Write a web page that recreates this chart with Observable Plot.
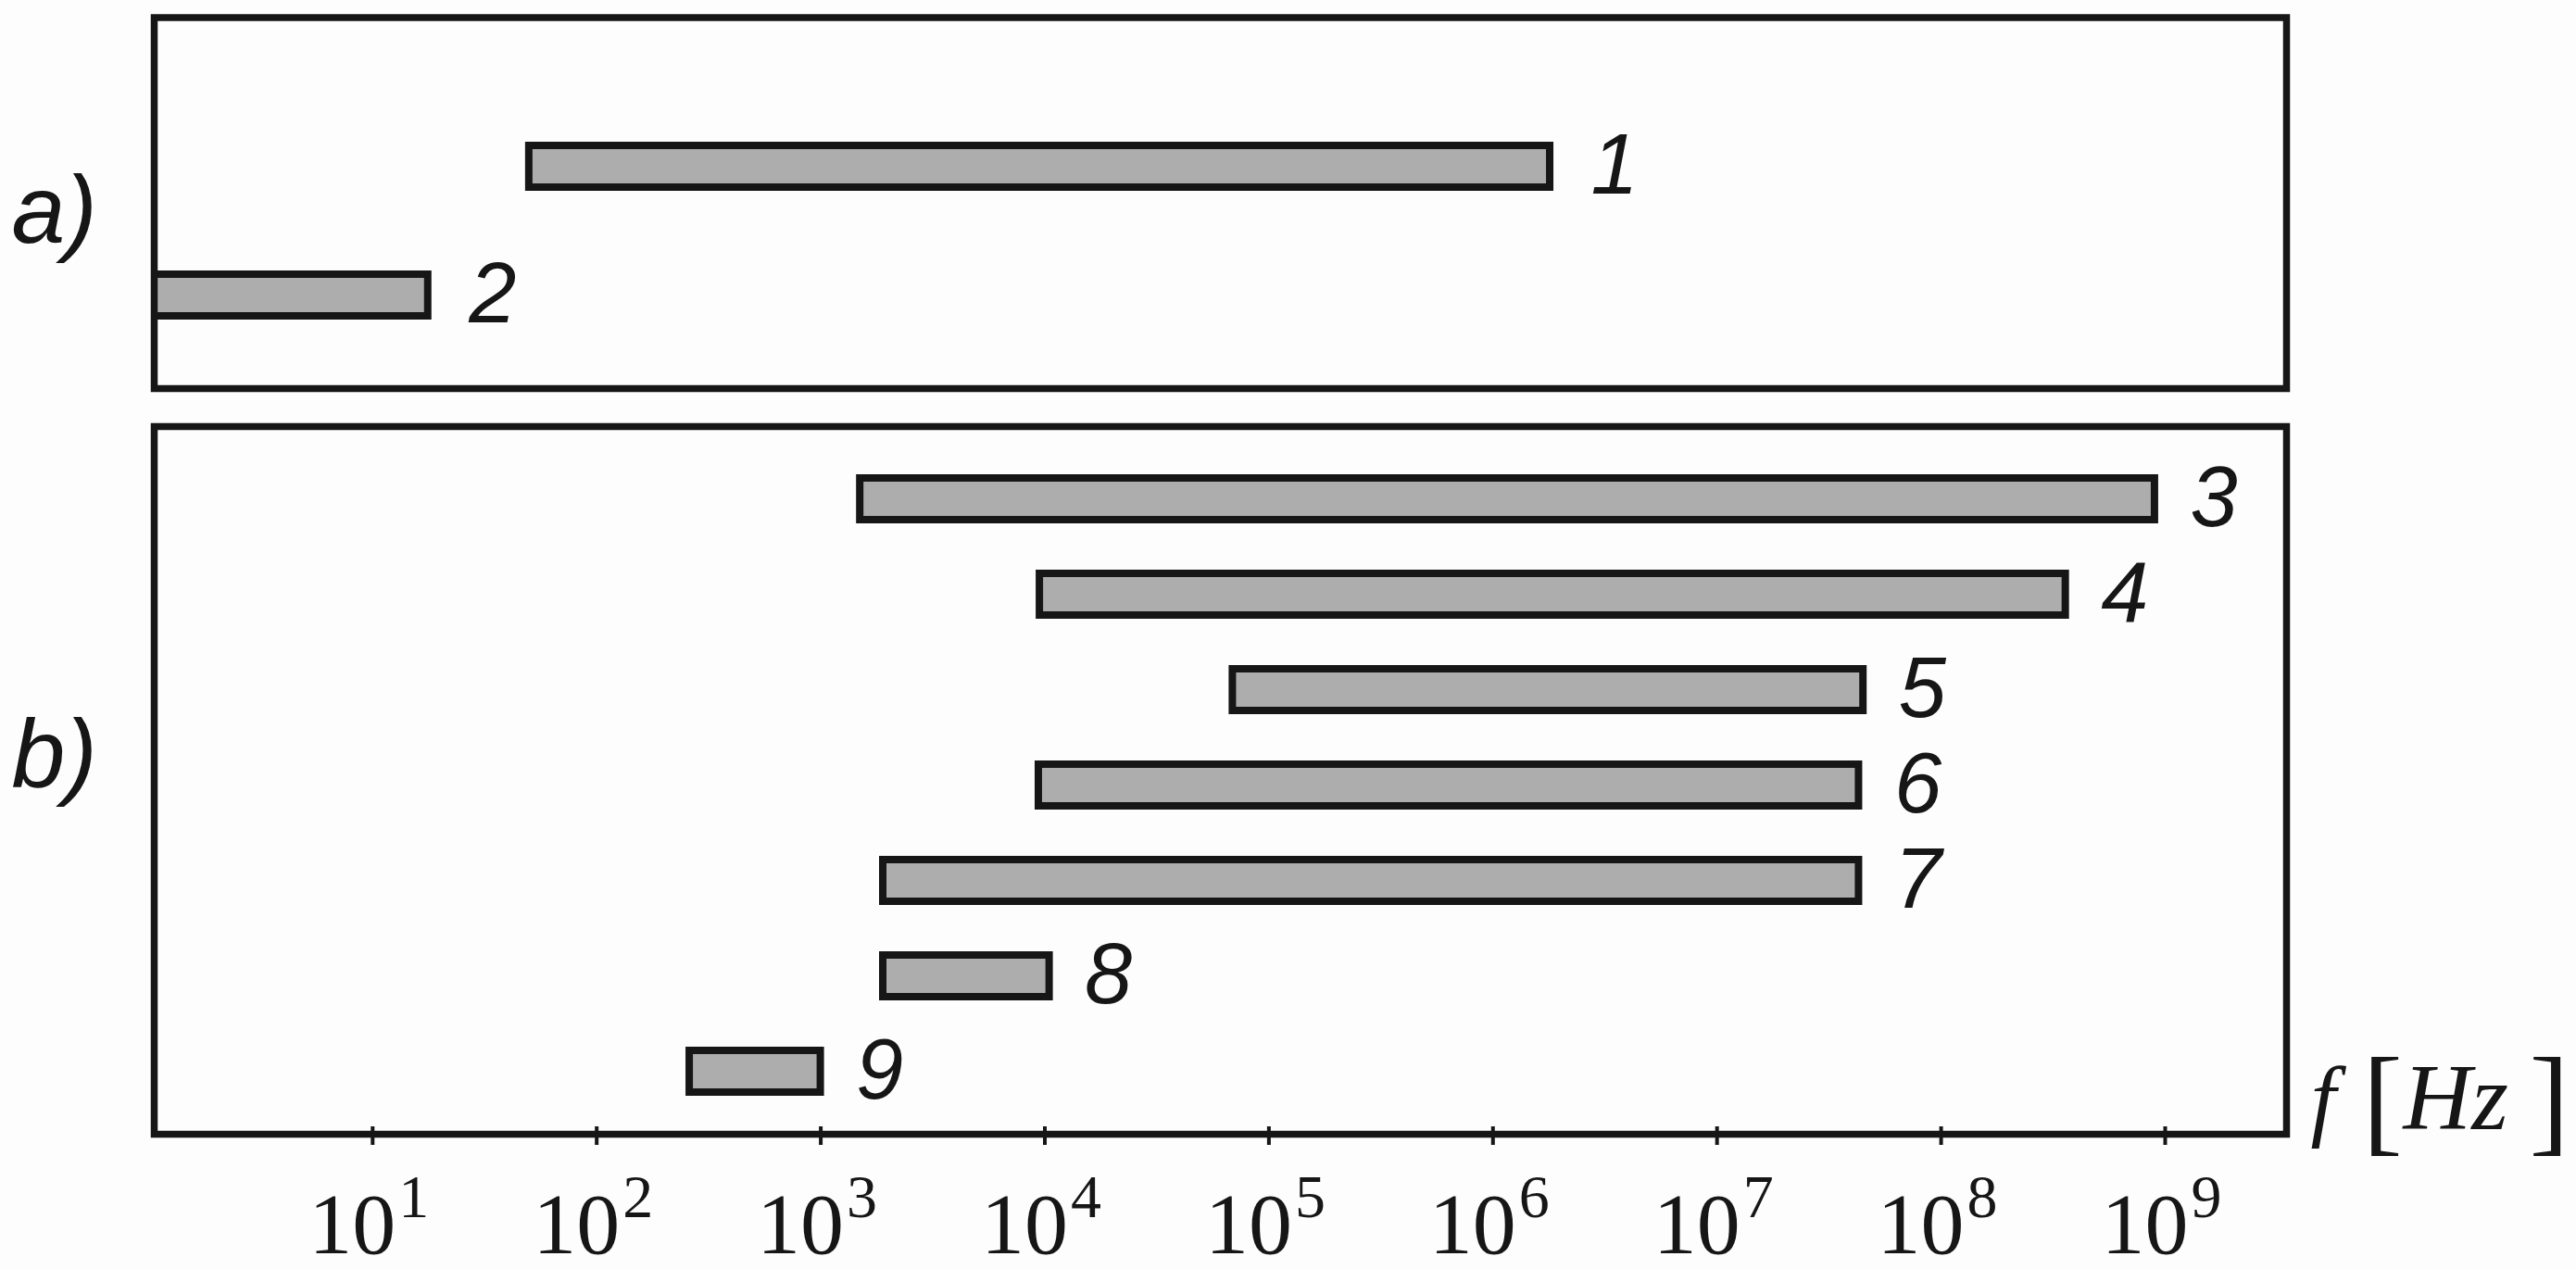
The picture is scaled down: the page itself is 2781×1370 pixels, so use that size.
<!DOCTYPE html>
<html>
<head>
<meta charset="utf-8">
<script src="https://cdn.jsdelivr.net/npm/d3@7"></script>
<script src="https://cdn.jsdelivr.net/npm/@observablehq/plot@0.6"></script>
<style>
  html, body { margin: 0; padding: 0; background: #fdfdfd; }
  #chart svg { display: block; }
</style>
</head>
<body>
<div id="chart"></div>
<script>
// ---- data ----
const bandIds   = ["1", "2", "3", "4", "5", "6", "7", "8", "9"];
const bandPanel = ["a", "a", "b", "b", "b", "b", "b", "b", "b"];
const freqLow   = [50, 1, 1500, 9500, 69000, 9400, 1900, 1900, 260];          // Hz
const freqHigh  = [1.8e6, 17.7, 9.0e8, 3.6e8, 4.5e7, 4.3e7, 4.3e7, 1.05e4, 1000]; // Hz
const panelLabels = ["a)", "b)"];
const tickExponents = [1, 2, 3, 4, 5, 6, 7, 8, 9];
const axisUnit = ["f", "[", "Hz", "]"];

// ---- table built from arrays ----
const rows = bandIds.map((id, i) => ({id, panel: bandPanel[i], lo: freqLow[i], hi: freqHigh[i]}));
const rowsA = rows.filter(d => d.panel === "a");
const rowsB = rows.filter(d => d.panel === "b");

const W = 2781;
const INK = "#161616";
const FILL = "#adadad";
const xScale = {type: "log", domain: [1.06, 3.48e9], axis: null};
const mL = 166, mR = 313;

const sans = "'Liberation Sans', Arial, sans-serif";
const serif = "'Liberation Serif', 'Times New Roman', serif";

function barMarks(data, labelDx) {
  return [
    Plot.barX(data, {x1: "lo", x2: "hi", y: "id", fill: FILL, stroke: INK, strokeWidth: 8, clip: true}),
    Plot.text(data, {x: "hi", y: "id", text: "id", dx: labelDx, textAnchor: "start", lineAnchor: "middle",
      fontSize: 92, fontStyle: "italic", fontFamily: sans, fill: INK})
  ];
}

const chartA = Plot.plot({
  width: W, height: 440,
  marginTop: 18.5, marginBottom: 21, marginLeft: mL, marginRight: mR,
  style: {background: "#fdfdfd", overflow: "visible"},
  x: xScale,
  y: {domain: rowsA.map(d => d.id), paddingInner: 0.679, paddingOuter: 0.77, align: 0.638, axis: null},
  marks: [
    ...barMarks(rowsA, 44),
    Plot.text([panelLabels[0]], {text: d => d, frameAnchor: "left", dx: -154, dy: 9, textAnchor: "start",
      lineAnchor: "middle", fontSize: 104, fontStyle: "italic", fontFamily: sans, fill: INK}),
    Plot.frame({stroke: INK, strokeWidth: 7.5})
  ]
});

const chartB = Plot.plot({
  width: W, height: 930,
  marginTop: 20, marginBottom: 146, marginLeft: mL, marginRight: mR,
  style: {background: "#fdfdfd", overflow: "visible"},
  x: xScale,
  y: {domain: rowsB.map(d => d.id), paddingInner: 0.566, paddingOuter: 0.4665, align: 0.553, axis: null},
  marks: [
    ...barMarks(rowsB, 38),
    Plot.text([panelLabels[1]], {text: d => d, frameAnchor: "left", dx: -154, dy: -27, textAnchor: "start",
      lineAnchor: "middle", fontSize: 104, fontStyle: "italic", fontFamily: sans, fill: INK}),
    Plot.frame({stroke: INK, strokeWidth: 7.5}),
    // tick marks crossing the bottom edge
    Plot.ruleX(tickExponents, {x: e => 10 ** e, insetTop: 756, insetBottom: -12, stroke: INK, strokeWidth: 4}),
    // tick labels 10^e
    Plot.text(tickExponents, {x: e => 10 ** e, text: () => "10", frameAnchor: "bottom", textAnchor: "end",
      lineAnchor: "bottom", dx: 25, dy: 128, fontSize: 94, fontFamily: serif, fill: INK}),
    Plot.text(tickExponents, {x: e => 10 ** e, text: e => String(e), frameAnchor: "bottom", textAnchor: "start",
      lineAnchor: "bottom", dx: 28, dy: 89, fontSize: 66, fontFamily: serif, fill: INK}),
    // axis unit  f [Hz]
    Plot.text([axisUnit[0]], {text: d => d, frameAnchor: "bottom-right", textAnchor: "start", lineAnchor: "bottom",
      dx: 26, dy: -6, fontSize: 98, fontStyle: "italic", fontFamily: serif, fill: INK}),
    Plot.text([axisUnit[1]], {text: d => d, frameAnchor: "bottom-right", textAnchor: "start", lineAnchor: "bottom",
      dx: 82, dy: 6, fontSize: 130, fontFamily: serif, fill: INK}),
    Plot.text([axisUnit[2]], {text: d => d, frameAnchor: "bottom-right", textAnchor: "start", lineAnchor: "bottom",
      dx: 126, dy: -6, fontSize: 102, fontStyle: "italic", fontFamily: serif, fill: INK}),
    Plot.text([axisUnit[3]], {text: d => d, frameAnchor: "bottom-right", textAnchor: "start", lineAnchor: "bottom",
      dx: 262, dy: 6, fontSize: 130, fontFamily: serif, fill: INK})
  ]
});

const root = document.getElementById("chart");
root.appendChild(chartA);
root.appendChild(chartB);
</script>
</body>
</html>
